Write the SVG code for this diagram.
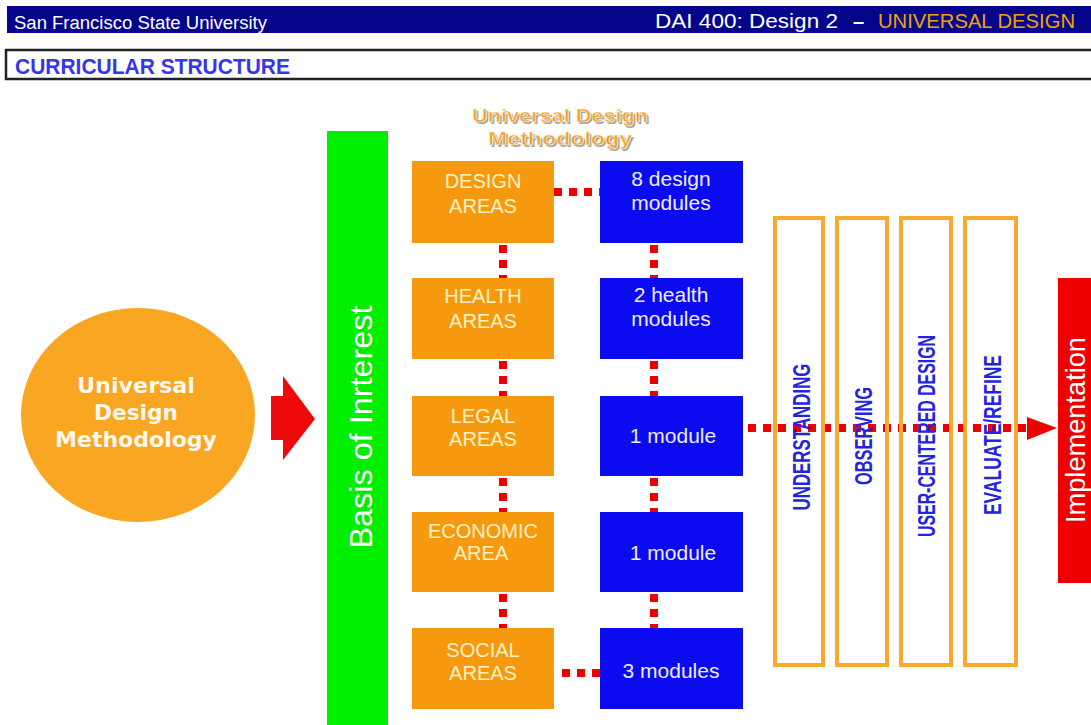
<svg xmlns="http://www.w3.org/2000/svg" width="1091" height="725" viewBox="0 0 1091 725">
<defs>
<style>
.hdr{font-family:"Liberation Sans",Arial,sans-serif;}
.area{fill:#f7990e;}
.mod{fill:#0b0bef;}
.areaT{font-family:"Liberation Sans",Arial,sans-serif;font-size:20px;fill:#fff3c4;text-anchor:middle;}
.modT{font-family:"Liberation Sans",Arial,sans-serif;font-size:21px;fill:#ececff;text-anchor:middle;}
.step{fill:none;stroke:#f8aa2c;stroke-width:4;}
.stepT{font-family:"Liberation Sans",Arial,sans-serif;font-size:23px;font-weight:bold;fill:#2424e0;text-anchor:middle;}
.dot{stroke:#ee0000;stroke-width:8;stroke-dasharray:8 7;fill:none;}
.titleT{font-family:"Liberation Sans",Arial,sans-serif;font-size:19px;font-weight:bold;text-anchor:middle;}
</style>
</defs>
<rect width="1091" height="725" fill="#ffffff"/>

<g id="header">
<rect x="7" y="6" width="1084" height="27" fill="#05058c"/>
<text class="hdr" x="14" y="29" font-size="18" fill="#ffffff" textLength="253" lengthAdjust="spacingAndGlyphs">San Francisco State University</text>
<text class="hdr" x="655" y="28" font-size="20" fill="#ffffff" textLength="183" lengthAdjust="spacingAndGlyphs">DAI 400: Design 2</text>
<text class="hdr" x="853" y="28" font-size="20" fill="#ffffff" font-weight="bold">–</text>
<text class="hdr" x="878" y="28" font-size="20" fill="#f0a010" textLength="197" lengthAdjust="spacingAndGlyphs">UNIVERSAL DESIGN</text>
</g>

<g id="subheader">
<rect x="6" y="50" width="1090" height="29" fill="#ffffff" stroke="#222222" stroke-width="2.5"/>
<text class="hdr" x="15" y="74" font-size="22" font-weight="bold" fill="#3535f0" textLength="275" lengthAdjust="spacingAndGlyphs">CURRICULAR STRUCTURE</text>
</g>

<g id="methodology-circle">
<ellipse cx="138" cy="415" rx="117" ry="107" fill="#f9a622"/>
<text x="136" y="393" font-family="DejaVu Sans,Verdana,sans-serif" font-size="21" font-weight="bold" fill="#fff8ec" text-anchor="middle" textLength="118" lengthAdjust="spacingAndGlyphs">Universal</text>
<text x="136" y="420" font-family="DejaVu Sans,Verdana,sans-serif" font-size="21" font-weight="bold" fill="#fff8ec" text-anchor="middle" textLength="84" lengthAdjust="spacingAndGlyphs">Design</text>
<text x="136" y="447" font-family="DejaVu Sans,Verdana,sans-serif" font-size="21" font-weight="bold" fill="#fff8ec" text-anchor="middle" textLength="162" lengthAdjust="spacingAndGlyphs">Methodology</text>
</g>

<g id="big-arrow">
<polygon points="271,396 283,396 283,376 315,419 283,460 283,440 271,440" fill="#ee0a0a"/>
</g>

<g id="basis">
<rect x="327" y="131" width="61" height="600" fill="#00ee00"/>
<text transform="translate(372,427) rotate(-90)" x="0" y="0" font-family="Liberation Sans,Arial,sans-serif" font-size="32" fill="#ffffff" text-anchor="middle" textLength="243" lengthAdjust="spacingAndGlyphs">Basis of Inrterest</text>
</g>

<g id="title">
<text class="titleT" x="562" y="124" fill="#a8a8a8" textLength="176" lengthAdjust="spacingAndGlyphs">Universal Design</text>
<text class="titleT" x="562" y="147" fill="#a8a8a8" textLength="144" lengthAdjust="spacingAndGlyphs">Methodology</text>
<text class="titleT" x="560" y="122" fill="#eea030" stroke="#fff2d8" stroke-width="0.6" textLength="176" lengthAdjust="spacingAndGlyphs">Universal Design</text>
<text class="titleT" x="560" y="145" fill="#eea030" stroke="#fff2d8" stroke-width="0.6" textLength="144" lengthAdjust="spacingAndGlyphs">Methodology</text>
</g>

<g id="connectors">
<line class="dot" x1="503" y1="245" x2="503" y2="278"/>
<line class="dot" x1="503" y1="361" x2="503" y2="396"/>
<line class="dot" x1="503" y1="478" x2="503" y2="512"/>
<line class="dot" x1="503" y1="594" x2="503" y2="628"/>
<line class="dot" x1="654" y1="245" x2="654" y2="278"/>
<line class="dot" x1="654" y1="361" x2="654" y2="396"/>
<line class="dot" x1="654" y1="478" x2="654" y2="512"/>
<line class="dot" x1="654" y1="594" x2="654" y2="628"/>
<line class="dot" x1="554" y1="192" x2="600" y2="192"/>
<line class="dot" x1="562" y1="673" x2="600" y2="673"/>
<line class="dot" x1="748" y1="428" x2="1027" y2="428"/>
<polygon points="1027,417 1057,428 1027,440" fill="#ee0000"/>
</g>

<g id="design-areas">
<rect class="area" x="412" y="161" width="142" height="82"/>
<text class="areaT" x="483" y="188">DESIGN</text>
<text class="areaT" x="483" y="213">AREAS</text>
</g>
<g id="health-areas">
<rect class="area" x="412" y="278" width="142" height="81"/>
<text class="areaT" x="483" y="303">HEALTH</text>
<text class="areaT" x="483" y="328">AREAS</text>
</g>
<g id="legal-areas">
<rect class="area" x="412" y="396" width="142" height="80"/>
<text class="areaT" x="483" y="423">LEGAL</text>
<text class="areaT" x="483" y="446">AREAS</text>
</g>
<g id="economic-area">
<rect class="area" x="412" y="512" width="142" height="80"/>
<text class="areaT" x="483" y="538">ECONOMIC</text>
<text class="areaT" x="481" y="560">AREA</text>
</g>
<g id="social-areas">
<rect class="area" x="412" y="628" width="142" height="81"/>
<text class="areaT" x="483" y="657">SOCIAL</text>
<text class="areaT" x="483" y="680">AREAS</text>
</g>

<g id="design-modules">
<rect class="mod" x="600" y="161" width="143" height="82"/>
<text class="modT" x="671" y="186">8 design</text>
<text class="modT" x="671" y="210">modules</text>
</g>
<g id="health-modules">
<rect class="mod" x="600" y="278" width="143" height="81"/>
<text class="modT" x="671" y="302">2 health</text>
<text class="modT" x="671" y="326">modules</text>
</g>
<g id="legal-module">
<rect class="mod" x="600" y="396" width="143" height="80"/>
<text class="modT" x="673" y="443">1 module</text>
</g>
<g id="economic-module">
<rect class="mod" x="600" y="512" width="143" height="80"/>
<text class="modT" x="673" y="560">1 module</text>
</g>
<g id="social-modules">
<rect class="mod" x="600" y="628" width="143" height="81"/>
<text class="modT" x="671" y="678" font-size="22">3 modules</text>
</g>

<g id="understanding">
<rect class="step" x="775" y="218" width="48" height="447"/>
<text class="stepT" transform="translate(810,437) rotate(-90)" textLength="147" lengthAdjust="spacingAndGlyphs">UNDERSTANDING</text>
</g>
<g id="observing">
<rect class="step" x="837" y="218" width="50" height="447"/>
<text class="stepT" transform="translate(872,436) rotate(-90)" textLength="98" lengthAdjust="spacingAndGlyphs">OBSERVING</text>
</g>
<g id="user-centered">
<rect class="step" x="901" y="218" width="50" height="447"/>
<text class="stepT" transform="translate(935,436) rotate(-90)" textLength="202" lengthAdjust="spacingAndGlyphs">USER-CENTERED DESIGN</text>
</g>
<g id="evaluate">
<rect class="step" x="965" y="218" width="51" height="447"/>
<text class="stepT" transform="translate(1001,435) rotate(-90)" textLength="160" lengthAdjust="spacingAndGlyphs">EVALUATE/REFINE</text>
</g>

<g id="implementation">
<rect x="1058" y="278" width="40" height="305" fill="#ee0000"/>
<text transform="translate(1085,430) rotate(-90)" font-family="Liberation Sans,Arial,sans-serif" font-size="28" fill="#ffffff" text-anchor="middle" textLength="186" lengthAdjust="spacingAndGlyphs">Implementation</text>
</g>
</svg>
